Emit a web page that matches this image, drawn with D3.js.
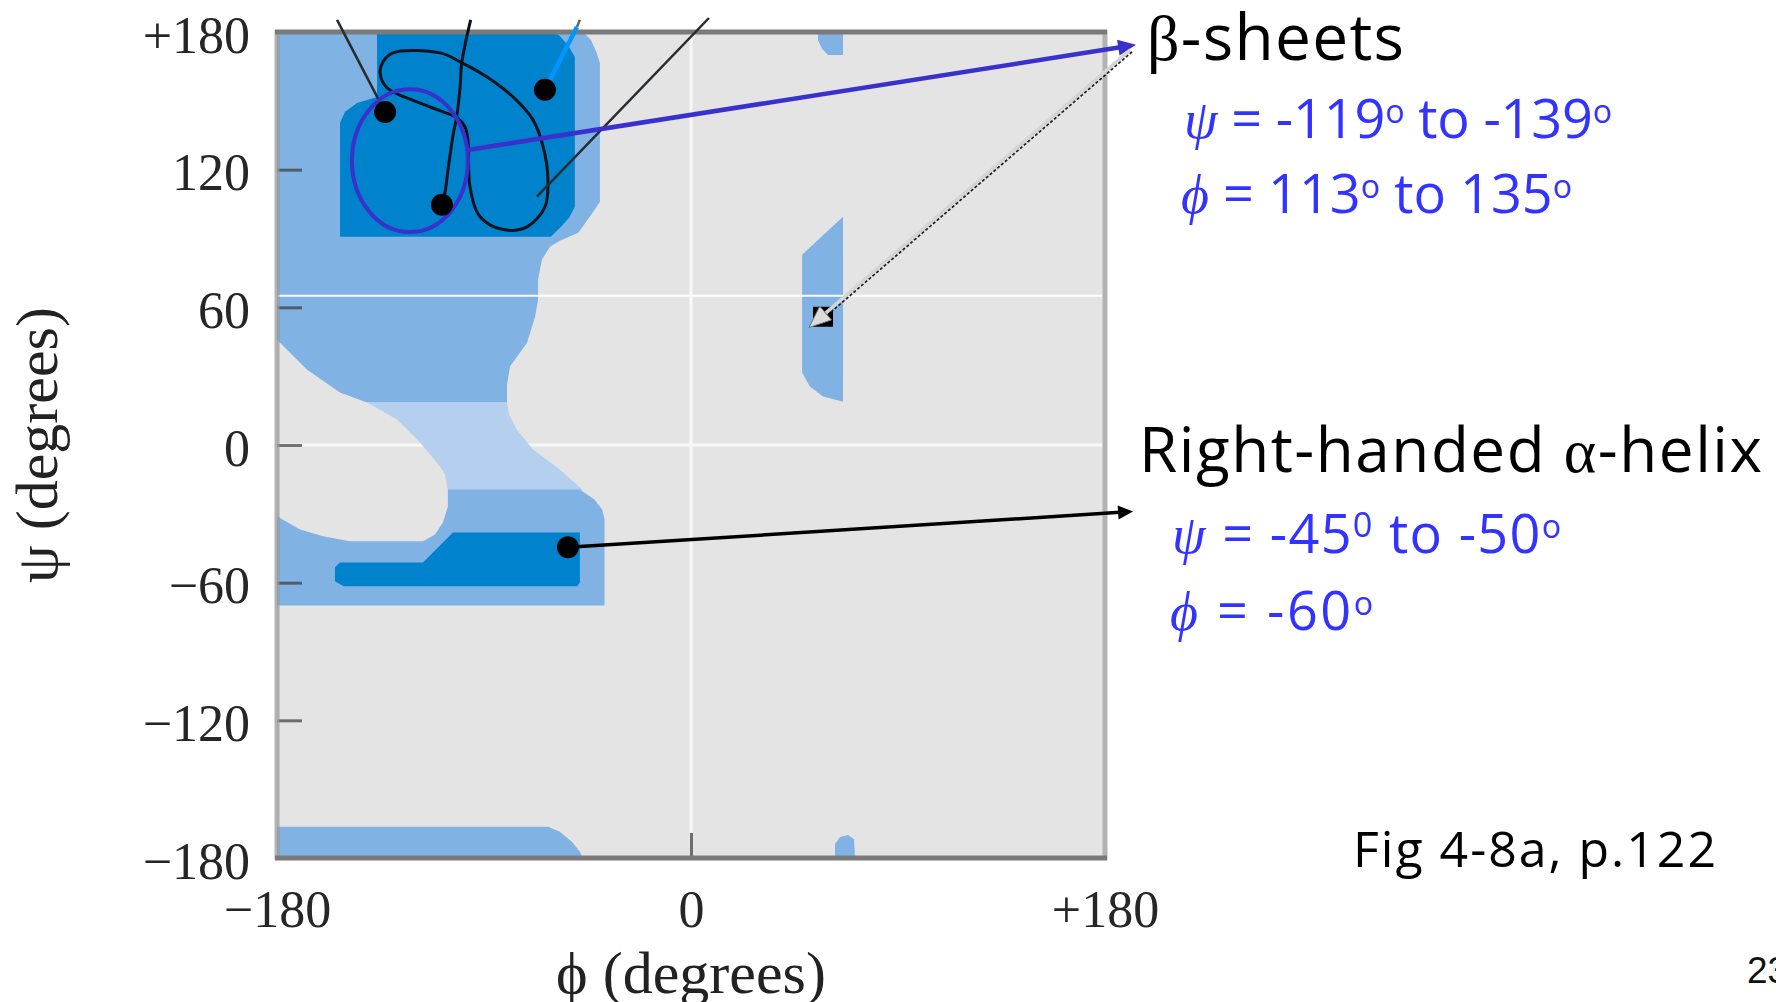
<!DOCTYPE html>
<html>
<head>
<meta charset="utf-8">
<script src="https://cdn.jsdelivr.net/npm/d3@7"></script>
<style>
  html, body { margin: 0; padding: 0; background: #fff; overflow: hidden; }
  svg { display: block; }
</style>
</head>
<body>
<svg id="chart" width="1776" height="1002"></svg>
<script>
// ---- Axis ticks -------------------------------------------------------
const phiTicks = [-180, 0, 180];
const psiTicks = [180, 120, 60, 0, -60, -120, -180];
const phiGuides = [0];
const psiGuidesUnder = [0];
const psiGuidesOver = [65];

// ---- Allowed regions, outlines as [phi, psi] in degrees ---------------
const betaAllowed = [[-180,180],[-47,180],[-43.5,176.5],[-41,170.9],[-39.6,166.5],[-39.6,106],
  [-42.8,101.2],[-49,92.5],[-57,89],[-61.3,86.4],[-64.8,80.8],[-66.5,72],[-66.5,63.3],[-67.8,55.9],
  [-71.3,44.6],[-78.7,34.2],[-80,26.3],[-80,18.5],[-140.9,18.5],[-152.6,22.9],[-167,32.9],
  [-178.7,44.6],[-180,45.9]];
const bridgeRegion = [[-140.9,18.5],[-80,18.5],[-79.1,13.3],[-75.7,6.7],[-68.7,-2],[-57,-10.7],
  [-48.3,-18.5],[-47,-19.6],[-105.7,-19.6],[-107,-12.8],[-109.1,-9.4],[-117.8,1.1],[-127.8,11.1]];
const helixAllowed = [[-105.7,-19.4],[-48.3,-19.4],[-42,-23.7],[-38.6,-28.1],[-37.6,-32.4],
  [-37.6,-70],[-180,-70],[-180,-31.1],[-170,-36.8],[-160,-39.8],[-148.3,-42],[-116.5,-42],
  [-111.3,-39],[-107.8,-33.7],[-105.7,-26.8]];
const leftHelixAllowed = [[48.3,82.9],[66.1,99.5],[66.1,18.9],[57.4,21.1],[51.7,25.5],[48.3,31.6]];
const topEdgeAllowed = [[55.2,180],[66.1,180],[66.1,170],[59.6,170],[57,172.6],[55.2,176.5]];
const bottomEdgeAllowed = [[-180,-166.4],[-62.2,-166.4],[-57,-168.6],[-51.7,-173],[-48.3,-177.3],
  [-47,-180],[-180,-180]];
const bottomSpot = [[62.6,-180],[62.6,-173.9],[64.8,-170.9],[68.3,-170],[70.9,-171.8],[71.3,-180]];
const betaCore = [[-136.5,180],[-61.5,180],[-57.5,178.7],[-53.3,174],[-50.5,169.1],[-50.5,103.8],
  [-53,99],[-56.5,95.1],[-61,90.8],[-152.6,90.8],[-152.6,140.4],[-150.4,145.2],[-145.2,149.1],
  [-136.5,151.7]];
const helixCore = [[-103.5,-38.1],[-48.3,-38.1],[-48.3,-60],[-49.5,-61.6],[-151,-61.6],
  [-154.8,-59.4],[-154.8,-53.3],[-152.6,-51.2],[-116.5,-51.2]];

// ---- Backbone sketch ------------------------------------------------
const backboneLoop = [[-133.9,167],[-129.6,170.9],[-109.1,170.9],[-100.4,167],[-88.7,160.4],
  [-77.4,151.7],[-68.7,141.7],[-64.3,130],[-62.2,115.6],[-63.5,103.8],[-71.3,95.1],[-81.7,93.9],
  [-91.7,99.5],[-96.1,112.6],[-97,133],[-98.3,138.7],[-101.7,142.6],[-107.8,145.2],[-119.1,149.5],
  [-132.2,155.7],[-135.2,162.2]];
const strandB = [[-95.8,185.3],[-99.7,166.5],[-100.4,156],[-101.9,143],[-103.3,136],[-105.5,121.2],
  [-107,109.9],[-108.4,104.7]];
const strandA = [[-153.9,185.3],[-133,145.1]];
const strandD = [[-67,108.2],[7.8,186.1]];
const strandC = [[-63.5,154.8],[-49.6,182.2]];
const strandCTip = [[-49.6,182.2],[-48.3,185.3]];
const residues = [[-133,145.1],[-108.3,104.7],[-63.5,154.8],[-53.5,-44.6]];
const leftHelixMark = [57.4, 55.9];
const betaEllipse = { center: [-122.2, 123.9], radius: [25.2, 31.1] };

// ---- Callout arrows (from, to) --------------------------------------
const betaArrow = [[-97,128.6],[193.5,174.4]];
const leftHelixArrow = [[191,172.2],[51.3,51.2]];
const helixArrow = [[-53.5,-44.6],[192.2,-29]];

// ---- Layout -----------------------------------------------------------
const SERIF = "'Liberation Serif', 'DejaVu Serif', serif";
const HAND = "'Open Sans', 'Noto Sans', sans-serif";
const BLUE_TEXT = "#3333ff";

const svg = d3.select("#chart");
const x = d3.scaleLinear().domain([-180, 180]).range([277, 1105]);
const y = d3.scaleLinear().domain([-180, 180]).range([858, 32]);
const px = d => x(d[0]);
const py = d => y(d[1]);
const closed = d3.line().x(px).y(py).curve(d3.curveLinearClosed);
const open = d3.line().x(px).y(py);

// plot background
svg.append("rect")
  .attr("x", x(-180)).attr("y", y(180))
  .attr("width", x(180) - x(-180)).attr("height", y(-180) - y(180))
  .attr("fill", "#e4e4e4");

// guides beneath the regions
svg.append("g").selectAll("line").data(psiGuidesUnder).join("line")
  .attr("x1", x(-180)).attr("x2", x(180)).attr("y1", y).attr("y2", y)
  .attr("stroke", "#f7f7f7").attr("stroke-width", 3);
svg.append("g").selectAll("line").data(phiGuides).join("line")
  .attr("x1", x).attr("x2", x).attr("y1", y(180)).attr("y2", y(-169))
  .attr("stroke", "#f7f7f7").attr("stroke-width", 3);

// allowed regions
const regions = [
  { pts: betaAllowed, fill: "#80b2e3" },
  { pts: bridgeRegion, fill: "#b4d0ee" },
  { pts: helixAllowed, fill: "#80b2e3" },
  { pts: leftHelixAllowed, fill: "#80b2e3" },
  { pts: topEdgeAllowed, fill: "#80b2e3" },
  { pts: bottomEdgeAllowed, fill: "#80b2e3" },
  { pts: bottomSpot, fill: "#80b2e3" },
  { pts: betaCore, fill: "#0083cc" },
  { pts: helixCore, fill: "#0083cc" }
];
svg.append("g").selectAll("path").data(regions).join("path")
  .attr("d", d => closed(d.pts)).attr("fill", d => d.fill);

// guide drawn over the regions
svg.append("g").selectAll("line").data(psiGuidesOver).join("line")
  .attr("x1", x(-180)).attr("x2", x(180)).attr("y1", y).attr("y2", y)
  .attr("stroke", "#ffffff").attr("stroke-width", 2);

// axes
const tickLabel = v => v === 180 ? "+180" : v < 0 ? "\u2212" + Math.abs(v) : String(v);

const yAxis = svg.append("g").attr("transform", `translate(${x(-180)},0)`)
  .call(d3.axisLeft(y).tickValues(psiTicks).tickFormat(tickLabel).tickSizeInner(-25).tickSizeOuter(0).tickPadding(27));
yAxis.select(".domain").remove();
yAxis.selectAll(".tick line")
  .attr("stroke", "#3a3a3a").attr("stroke-opacity", 0.7).attr("stroke-width", 3)
  .filter(d => Math.abs(d) === 180).remove();
yAxis.selectAll(".tick text")
  .attr("dy", null).attr("y", 20)
  .attr("font-family", SERIF).attr("font-size", 52).attr("fill", "#262626");

const xAxis = svg.append("g").attr("transform", `translate(0,${y(-180)})`)
  .call(d3.axisBottom(x).tickValues(phiTicks).tickFormat(tickLabel).tickSizeInner(-25).tickSizeOuter(0).tickPadding(0));
xAxis.select(".domain").remove();
xAxis.selectAll(".tick line")
  .attr("stroke", "#3a3a3a").attr("stroke-opacity", 0.7).attr("stroke-width", 3)
  .filter(d => Math.abs(d) === 180).remove();
xAxis.selectAll(".tick text")
  .attr("dy", null).attr("y", 69)
  .attr("font-family", SERIF).attr("font-size", 52).attr("fill", "#262626");

// frame
const frame = svg.append("g");
frame.append("line").attr("x1", x(-180)).attr("x2", x(-180)).attr("y1", y(180) - 2).attr("y2", y(-180) + 2)
  .attr("stroke", "#9a9a9a").attr("stroke-opacity", 0.75).attr("stroke-width", 5);
frame.append("line").attr("x1", x(180)).attr("x2", x(180)).attr("y1", y(180) - 2).attr("y2", y(-180) + 2)
  .attr("stroke", "#b3b3b3").attr("stroke-width", 5);
frame.append("line").attr("x1", x(-180) - 2).attr("x2", x(180) + 2).attr("y1", y(180)).attr("y2", y(180))
  .attr("stroke", "#7a7a7a").attr("stroke-width", 5);
frame.append("line").attr("x1", x(-180) - 2).attr("x2", x(180) + 2).attr("y1", y(-180)).attr("y2", y(-180))
  .attr("stroke", "#7a7a7a").attr("stroke-width", 5);

// axis titles
svg.append("text")
  .attr("transform", `translate(57,${y(0)}) rotate(-90)`)
  .attr("text-anchor", "middle")
  .attr("font-family", SERIF).attr("font-size", 60).attr("fill", "#222")
  .text("\u03c8 (degrees)");
svg.append("text")
  .attr("x", x(0)).attr("y", 993)
  .attr("text-anchor", "middle")
  .attr("font-family", SERIF).attr("font-size", 60).attr("fill", "#222")
  .text("\u03d5 (degrees)");

// backbone sketch
const sketch = svg.append("g");
sketch.append("path")
  .attr("d", d3.line().x(px).y(py).curve(d3.curveCatmullRomClosed)(backboneLoop))
  .attr("fill", "none").attr("stroke", "#08121c").attr("stroke-width", 3);
sketch.append("path")
  .attr("d", d3.line().x(px).y(py).curve(d3.curveCatmullRom)(strandB))
  .attr("fill", "none").attr("stroke", "#08121c").attr("stroke-width", 3);
[strandA, strandD].forEach(s => sketch.append("path").attr("d", open(s))
  .attr("fill", "none").attr("stroke", "#262b30").attr("stroke-width", 2.5));
sketch.append("path").attr("d", open(strandCTip))
  .attr("fill", "none").attr("stroke", "#666").attr("stroke-width", 2.5);
sketch.append("path").attr("d", open(strandC))
  .attr("fill", "none").attr("stroke", "#0096ff").attr("stroke-width", 4.5);

sketch.append("ellipse")
  .attr("cx", x(betaEllipse.center[0])).attr("cy", y(betaEllipse.center[1]))
  .attr("rx", x(betaEllipse.center[0] + betaEllipse.radius[0]) - x(betaEllipse.center[0]))
  .attr("ry", y(betaEllipse.center[1] - betaEllipse.radius[1]) - y(betaEllipse.center[1]))
  .attr("fill", "none").attr("stroke", "#3a30cc").attr("stroke-width", 4);

sketch.selectAll("circle").data(residues).join("circle")
  .attr("cx", px).attr("cy", py).attr("r", 11).attr("fill", "#000");
sketch.append("rect")
  .attr("x", x(leftHelixMark[0]) - 10).attr("y", y(leftHelixMark[1]) - 10)
  .attr("width", 20).attr("height", 20).attr("fill", "#000");

// callout arrows
function arrow(g, seg, color, width, headLen, headHalf) {
  const s = [px(seg[0]), py(seg[0])], e = [px(seg[1]), py(seg[1])];
  const L = Math.hypot(e[0] - s[0], e[1] - s[1]);
  const u = [(e[0] - s[0]) / L, (e[1] - s[1]) / L], n = [-u[1], u[0]];
  const b = [e[0] - u[0] * headLen, e[1] - u[1] * headLen];
  g.append("line").attr("x1", s[0]).attr("y1", s[1]).attr("x2", b[0] + u[0] * 2).attr("y2", b[1] + u[1] * 2)
    .attr("stroke", color).attr("stroke-width", width);
  g.append("path")
    .attr("d", `M${e[0]},${e[1]}L${b[0] + n[0] * headHalf},${b[1] + n[1] * headHalf}L${b[0] - n[0] * headHalf},${b[1] - n[1] * headHalf}Z`)
    .attr("fill", color);
}
const arrows = svg.append("g");
arrow(arrows, betaArrow, "#3a30cc", 4.5, 18, 8);
arrow(arrows, helixArrow, "#000", 3.5, 15, 7);

// grey outlined arrow to the left-handed region
{
  const s = [px(leftHelixArrow[0]), py(leftHelixArrow[0])], e = [px(leftHelixArrow[1]), py(leftHelixArrow[1])];
  const L = Math.hypot(e[0] - s[0], e[1] - s[1]);
  const u = [(e[0] - s[0]) / L, (e[1] - s[1]) / L], n = [-u[1], u[0]];
  const b = [e[0] - u[0] * 22, e[1] - u[1] * 22];
  arrows.append("line")
    .attr("x1", s[0] - n[0] * 2.5).attr("y1", s[1] - n[1] * 2.5)
    .attr("x2", b[0] - n[0] * 2.5).attr("y2", b[1] - n[1] * 2.5)
    .attr("stroke", "#1e1e1e").attr("stroke-width", 2).attr("stroke-dasharray", "3,2");
  arrows.append("line")
    .attr("x1", s[0]).attr("y1", s[1]).attr("x2", b[0]).attr("y2", b[1])
    .attr("stroke", "#d4d4d4").attr("stroke-width", 3.5);
  arrows.append("path")
    .attr("d", `M${e[0]},${e[1]}L${b[0] + n[0] * 9},${b[1] + n[1] * 9}L${b[0] - n[0] * 9},${b[1] - n[1] * 9}Z`)
    .attr("fill", "#dcdcdc").attr("stroke", "#777").attr("stroke-width", 1);
}

// annotation text
function richText(cfg) {
  const t = svg.append("text")
    .attr("x", cfg.x).attr("y", cfg.y)
    .attr("font-family", HAND).attr("font-size", cfg.size).attr("fill", cfg.color)
    .attr("font-weight", cfg.weight || 400);
  if (cfg.width) t.attr("textLength", cfg.width).attr("lengthAdjust", "spacing");
  let lift = 0;
  cfg.parts.forEach(p => {
    const s = t.append("tspan").text(p.t);
    if (p.serif) s.attr("font-family", SERIF).attr("font-weight", 400);
    if (p.italic) s.attr("font-style", "italic");
    if (p.sup) {
      s.attr("font-size", p.sup[0]).attr("dy", -p.sup[1] + lift);
      lift = p.sup[1];
    } else if (lift) {
      s.attr("dy", lift);
      lift = 0;
    }
  });
}

const deg = [32, 15];
const degZero = [34, 16];
richText({ x: 1147, y: 60, size: 64, color: "#000", width: 257, weight: 500,
  parts: [{ t: "\u03b2", serif: true }, { t: "-sheets" }] });
richText({ x: 1184, y: 138, size: 54, color: BLUE_TEXT, width: 428, weight: 500,
  parts: [{ t: "\u03c8", serif: true, italic: true }, { t: " = -119" }, { t: "o", sup: deg },
          { t: " to -139" }, { t: "o", sup: deg }] });
richText({ x: 1181, y: 213, size: 54, color: BLUE_TEXT, width: 391, weight: 500,
  parts: [{ t: "\u03d5", serif: true, italic: true }, { t: "  = 113" }, { t: "o", sup: deg },
          { t: " to 135" }, { t: "o", sup: deg }] });
richText({ x: 1139, y: 472, size: 62, color: "#000", width: 623, weight: 500,
  parts: [{ t: "Right-handed " }, { t: "\u03b1", serif: true }, { t: "-helix" }] });
richText({ x: 1172, y: 553, size: 54, color: BLUE_TEXT, width: 389, weight: 500,
  parts: [{ t: "\u03c8", serif: true, italic: true }, { t: " = -45" }, { t: "0", sup: degZero },
          { t: " to -50" }, { t: "o", sup: deg }] });
richText({ x: 1170, y: 630, size: 54, color: BLUE_TEXT, width: 203, weight: 500,
  parts: [{ t: "\u03d5", serif: true, italic: true }, { t: "  = -60" }, { t: "o", sup: deg }] });
richText({ x: 1353, y: 867, size: 50, color: "#000", width: 363, weight: 500,
  parts: [{ t: "Fig 4-8a, p.122" }] });

svg.append("text").attr("x", 1747).attr("y", 983)
  .attr("font-family", "'Liberation Sans', 'Open Sans', sans-serif").attr("font-size", 37).attr("fill", "#111")
  .text("23");
</script>
</body>
</html>
